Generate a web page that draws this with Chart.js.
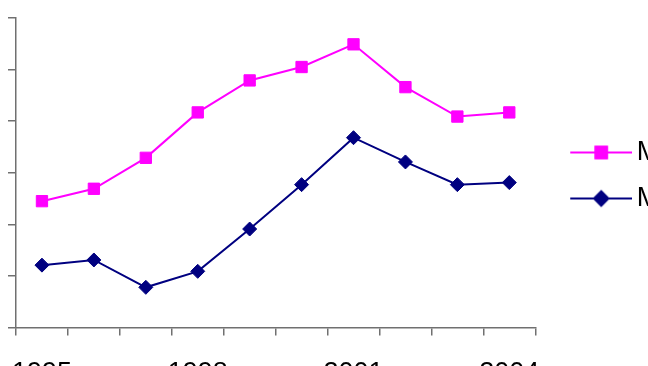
<!DOCTYPE html>
<html>
<head>
<meta charset="utf-8">
<script src="https://cdn.jsdelivr.net/npm/chart.js@4.4.1/dist/chart.umd.min.js"></script>
<style>
    html, body { margin: 0; padding: 0; background: #fff; overflow: hidden; }
    #myChart { position: absolute; left: 0; top: 0; }
</style>
</head>
<body>
<canvas id="myChart" width="711" height="412"></canvas>
<script>
//********************************************************************************//
//                            Data
//********************************************************************************//
var years = ['1995', '1996', '1997', '1998', '1999', '2000', '2001', '2002', '2003', '2004'];
var shownYears = ['1995', '1998', '2001', '2004'];
var seriesNames = ['Maximum', 'Minimum'];
var upperValues = [2.45, 2.69, 3.29, 4.17, 4.79, 5.05, 5.49, 4.66, 4.09, 4.17];
var lowerValues = [1.21, 1.31, 0.78, 1.09, 1.91, 2.77, 3.68, 3.21, 2.77, 2.81];

var Dashboard = function () {

    //********************************************************************************//
    //                            Global variables
    //********************************************************************************//
    var $chart = document.getElementById('myChart');
    var chart;
    var pink = '#ff00ff';
    var navy = '#000080';
    var axisColor = '#707070';

    // legend sample: short line with the marker in the middle
    var legendSample = function (color, style, radius) {
        var c = document.createElement('canvas');
        c.width = 87;
        c.height = 20;
        var ctx = c.getContext('2d');
        ctx.strokeStyle = color;
        ctx.lineWidth = 2;
        ctx.beginPath();
        ctx.moveTo(25, 10);
        ctx.lineTo(87, 10);
        ctx.stroke();
        ctx.fillStyle = color;
        Chart.helpers.drawPoint(ctx, { pointStyle: style, radius: radius, borderWidth: 1 }, 56, 10);
        ctx.fill();
        ctx.stroke();
        return c;
    };

    const data = {
        labels: years,
        datasets: [{
            label: seriesNames[0],
            data: upperValues,
            borderColor: pink,
            backgroundColor: pink,
            borderWidth: 2,
            pointStyle: 'rect',
            pointRadius: 8,
            pointHoverRadius: 8,
            pointBorderWidth: 1,
            tension: 0
        },
            {
                label: seriesNames[1],
                data: lowerValues,
                borderColor: navy,
                backgroundColor: navy,
                borderWidth: 2,
                pointStyle: 'rectRot',
                pointRadius: 7,
                pointHoverRadius: 7,
                pointBorderWidth: 1,
                tension: 0
            }
        ]
    };

    const config = {
        type: 'line',
        data: data,
        options: {
            responsive: false,
            animation: false,
            devicePixelRatio: 1,
            layout: { padding: { left: 8, top: 18, right: 0, bottom: 0 } },
            plugins: {
                tooltip: { enabled: false },
                legend: {
                    position: 'right',
                    align: 'start',
                    title: { display: true, text: '', font: { size: 10 }, padding: { top: 90, bottom: 0 } },
                    labels: {
                        usePointStyle: true,
                        pointStyleWidth: 69,
                        padding: 19,
                        color: '#000',
                        font: { family: 'Liberation Sans, Arial, sans-serif', size: 27 },
                        generateLabels: function (ch) {
                            return ch.data.datasets.map(function (ds, i) {
                                return {
                                    text: ds.label,
                                    fontColor: '#000',
                                    pointStyle: legendSample(ds.borderColor, ds.pointStyle, ds.pointRadius),
                                    datasetIndex: i,
                                    hidden: false,
                                    lineWidth: 0
                                };
                            });
                        }
                    }
                }
            },
            scales: {
                x: {
                    type: 'category',
                    offset: true,
                    grid: { offset: true, drawOnChartArea: false, tickLength: 8, color: axisColor, lineWidth: 1.5 },
                    border: { color: axisColor, width: 1.5 },
                    ticks: {
                        autoSkip: false,
                        maxRotation: 0,
                        padding: 10,
                        color: '#000',
                        font: { family: 'Liberation Sans, Arial, sans-serif', size: 27, lineHeight: 2.09 },
                        callback: function (value, index) {
                            var label = this.getLabelForValue(value);
                            return shownYears.indexOf(label) >= 0 ? label : '';
                        }
                    }
                },
                y: {
                    min: 0,
                    max: 6,
                    grid: { drawOnChartArea: false, tickLength: 8, color: axisColor, lineWidth: 1.5 },
                    border: { color: axisColor, width: 1.5 },
                    ticks: { stepSize: 1, display: false }
                }
            }
        }
    };

    //********************************************************************************//
    //                            Initializations
    //********************************************************************************//
    var initChart = function () {
        chart = new Chart($chart, config);
    }

    return {
        init: function () {
            initChart();
        },
    };
}();

window.addEventListener('load', function () {
    Dashboard.init();
});
</script>
</body>
</html>
